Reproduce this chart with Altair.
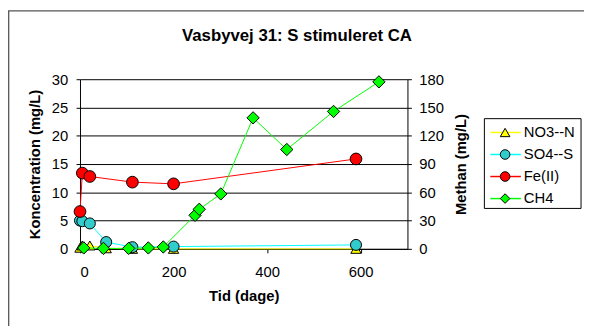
import altair as alt
import pandas as pd

FONT = "Liberation Sans"

series_names = ["NO3--N", "SO4--S", "Fe(II)", "CH4"]
line_colors = ["#FFFF00", "#00FFFF", "#FF0000", "#00FF00"]
marker_fills = ["#FFFF00", "#33CCCC", "#FF0000", "#00FF00"]
marker_shapes = ["triangle-up", "circle", "circle", "diamond"]
marker_sizes = [110, 156, 156, 150]

no3_days = [0, 5, 21, 56, 112, 200, 590]
no3_vals = [0.2, 0.6, 0.6, 0.1, 0.0, 0.0, 0.0]

so4_days = [0, 5, 21, 56, 112, 200, 590]
so4_vals = [5.0, 4.9, 4.5, 1.2, 0.3, 0.4, 0.7]

fe_days = [0, 5, 21, 112, 200, 590]
fe_vals = [6.6, 13.4, 12.8, 11.8, 11.5, 15.9]

ch4_days = [8, 50, 104, 146, 178, 246, 255, 301, 370, 442, 542, 639]
ch4_vals = [1, 0.5, 0.5, 1, 2, 35.6, 42, 58.3, 139, 105.4, 145.8, 177.2]

x_ticks = [0, 200, 400, 600]
left_ticks = [0, 5, 10, 15, 20, 25, 30]
right_ticks = [0, 30, 60, 90, 120, 150, 180]

title_text = "Vasbyvej 31: S stimuleret CA"

left_df = pd.concat([
    pd.DataFrame({"series": "NO3--N", "day": no3_days, "value": no3_vals}),
    pd.DataFrame({"series": "SO4--S", "day": so4_days, "value": so4_vals}),
    pd.DataFrame({"series": "Fe(II)", "day": fe_days, "value": fe_vals}),
], ignore_index=True)
right_df = pd.DataFrame({"series": "CH4", "day": ch4_days, "value": ch4_vals})

color_scale = alt.Scale(domain=series_names, range=line_colors)
fill_scale = alt.Scale(domain=series_names, range=marker_fills)
shape_scale = alt.Scale(domain=series_names, range=marker_shapes)
size_scale = alt.Scale(domain=series_names, range=marker_sizes)

x_enc = alt.X("day:Q", scale=alt.Scale(domain=[0, 700], nice=False),
              axis=alt.Axis(values=x_ticks, title="Tid (dage)", grid=False,
                            labelPadding=12, titleBaseline="alphabetic",
                            titleY=52.5))

y_left = alt.Y("value:Q", scale=alt.Scale(domain=[0, 30], nice=False),
               axis=alt.Axis(values=left_ticks, orient="left", grid=True,
                             gridColor="black", gridOpacity=1, gridWidth=1,
                             title="Koncentration (mg/L)", labelPadding=8.5,
                             titleAngle=270, titleBaseline="alphabetic",
                             titleX=-41, titleY=86, titleAlign="center"))
y_right = alt.Y("value:Q", scale=alt.Scale(domain=[0, 180], nice=False),
                axis=alt.Axis(values=right_ticks, orient="right", grid=False,
                              title="Methan (mg/L)", labelPadding=7.5,
                              titleAngle=270, titleBaseline="alphabetic",
                              titleX=58.7, titleY=86, titleAlign="center"))

color_enc = alt.Color("series:N", scale=color_scale, legend=None)
fill_enc = alt.Fill("series:N", scale=fill_scale, legend=None)
shape_enc = alt.Shape("series:N", scale=shape_scale, legend=None)
size_enc = alt.Size("series:N", scale=size_scale, legend=None)

left_lines = alt.Chart(left_df).mark_line(strokeWidth=1).encode(
    x=x_enc, y=y_left, color=color_enc, detail="series:N")
left_points = alt.Chart(left_df).mark_point(filled=True, stroke="black", strokeWidth=1, opacity=1).encode(
    x=x_enc, y=y_left, fill=fill_enc, shape=shape_enc, size=size_enc)
right_lines = alt.Chart(right_df).mark_line(strokeWidth=1).encode(
    x=x_enc, y=y_right, color=color_enc)
right_points = alt.Chart(right_df).mark_point(filled=True, stroke="black", strokeWidth=1, opacity=1).encode(
    x=x_enc, y=y_right, fill=fill_enc, shape=shape_enc, size=size_enc)

left_layer = alt.layer(left_lines, left_points)
right_layer = alt.layer(right_lines, right_points)
data_layer = alt.layer(left_layer, right_layer).resolve_scale(y="independent")

one = pd.DataFrame({"k": [0]})
frame = alt.Chart(one).mark_rect(fillOpacity=0, stroke="#555555", strokeWidth=1.3).encode(
    x=alt.value(-72.3), x2=alt.value(530), y=alt.value(-69.3), y2=alt.value(300))
title = alt.Chart(one).mark_text(text=title_text, font=FONT, fontSize=17, fontWeight="bold",
                                 align="center", baseline="alphabetic", color="black").encode(
    x=alt.value(220), y=alt.value(-39))

leg_df = pd.DataFrame({"series": series_names})
leg_y = alt.Y("series:N", scale=alt.Scale(type="point", domain=series_names, range=[54, 121], padding=0),
              axis=None)
leg_box = alt.Chart(one).mark_rect(fill="white", stroke="black", strokeWidth=1).encode(
    x=alt.value(410), x2=alt.value(508), y=alt.value(40), y2=alt.value(131))
leg_rules = alt.Chart(leg_df).mark_rule(strokeWidth=1.5).encode(
    x=alt.value(416), x2=alt.value(447), y=leg_y, color=color_enc)
leg_points = alt.Chart(leg_df).mark_point(filled=True, stroke="black", strokeWidth=1, opacity=1, size=95).encode(
    x=alt.value(431), y=leg_y, fill=fill_enc, shape=shape_enc)
leg_text = alt.Chart(leg_df).mark_text(font=FONT, fontSize=15, align="left", baseline="middle", color="black").encode(
    x=alt.value(450), y=leg_y, text="series:N")
legend_layer = alt.layer(leg_box, leg_rules, leg_points, leg_text)

chart = alt.layer(frame, title, data_layer, legend_layer).resolve_scale(
    y="independent"
).properties(
    width=332, height=172,
    autosize=alt.AutoSizeParams(type="none"),
    padding={"left": 73, "top": 70, "right": 179, "bottom": 76},
    background="white",
).configure_view(stroke=None).configure_axis(
    labelFont=FONT, titleFont=FONT, labelFontSize=15, titleFontSize=15,
    titleFontWeight="bold", labelColor="black", titleColor="black",
    domainColor="black", tickColor="black", tickSize=4, domainWidth=1, tickWidth=1,
)

chart.save("out.html", embed_options={"renderer": "svg", "actions": False})
